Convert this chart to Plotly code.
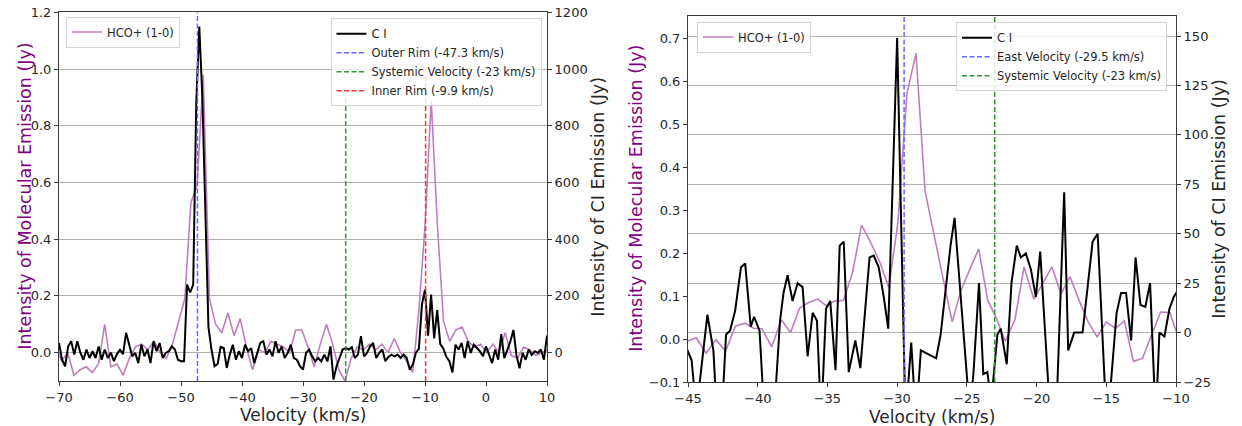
import plotly.graph_objects as go

# ---------------- data: left panel ----------------
hco_left_v = [round(-70.59 + 1.01 * i, 2) for i in range(81)]
hco_left = [0.03, -0.03, 0.00, -0.08, -0.06, -0.05, -0.07, -0.04, 0.10, -0.05,
            -0.04, -0.08, -0.02, 0.02, 0.03, 0.01, 0.04, 0.00, -0.02, 0.03,
            0.11, 0.19, 0.53, 0.59, 0.98, 0.19, 0.10, 0.07, 0.14, 0.06,
            0.12, 0.02, -0.06, 0.01, 0.00, 0.04, 0.03, 0.02, 0.00, 0.08,
            0.08, 0.02, -0.05, 0.03, 0.10, 0.03, -0.06, -0.10, -0.02, 0.02,
            0.01, 0.03, 0.01, 0.03, 0.00, 0.05, 0.00, -0.03, -0.07, 0.15,
            0.45, 0.89, 0.45, 0.11, 0.04, 0.08, 0.09, 0.04, 0.02, 0.03,
            0.00, 0.03, 0.00, 0.07, -0.01, -0.02, 0.02, 0.01, -0.01, 0.00, 0.01]

ci_left_v = [-70 + 0.5 * i for i in range(161)]
ci_left = [34, -25, -48, 22, 40, -7, 40, 0, -25, 11,
           -19, 5, -19, 22, -25, 11, -19, 0, -30, -5,
           10, -5, 70, 28, -13, -1, -37, 28, -13, 11,
           -37, 40, 5, 34, -19, -1, 5, 22, 11, -25,
           -30, -30, 240, 212, 240, 880, 1150, 900, 480, 90,
           11, -48, -40, 20, 16, -54, -7, 28, -25, 5,
           -19, 28, 5, 16, -37, -1, 34, 40, -7, 11,
           -13, 40, -1, 22, -19, -1, 28, -19, -25, -48,
           -60, -1, 11, -13, -31, -19, -31, -7, -31, 22,
           -95, -48, -19, 11, 16, 11, 19, -19, -7, 58,
           -13, -1, 22, 34, -19, -1, 11, -30, -15, -7,
           -13, -7, -19, -7, -19, -60, -42, -1, 14, 170,
           222, 60, 205, 50, 150, 30, 15, -15, -30, -70,
           28, 11, 34, -19, 40, -1, 28, 16, 5, -13,
           22, -7, -37, 11, -25, 65, -19, 10, 40, 80,
           -10, -55, -1, -25, 11, -8, 5, -1, 11, -25, 60]

# ---------------- data: right panel ----------------
hco_right_v = [-45.05, -44.40, -43.70, -43.00, -42.30, -41.60, -40.90, -40.30, -39.70, -39.00,
               -38.30, -37.65, -37.00, -36.35, -35.70, -35.10, -34.50, -33.85, -33.20, -32.55,
               -31.90, -31.25, -30.60, -29.95, -29.30, -28.65, -28.00, -27.35, -26.70, -26.05,
               -25.40, -24.75, -24.15, -23.50, -22.90, -22.25, -21.55, -20.90, -20.20, -19.55,
               -18.90, -18.25, -17.60, -16.95, -16.30, -15.65, -15.00, -14.35, -13.70, -13.05,
               -12.40, -11.75, -11.10, -10.45, -9.80]
hco_right = [-0.005, 0.003, -0.033, -0.002, -0.028, 0.030, 0.037, 0.025, 0.024, -0.018,
             0.045, 0.015, 0.072, 0.085, 0.093, 0.078, 0.088, 0.090, 0.155, 0.265,
             0.225, 0.180, 0.120, 0.270, 0.570, 0.665, 0.345, 0.240, 0.140, 0.040,
             0.115, 0.165, 0.210, 0.090, 0.050, -0.005, 0.045, 0.168, 0.093, 0.130,
             0.168, 0.105, 0.145, 0.090, 0.040, 0.005, 0.040, 0.025, 0.042, -0.052,
             -0.045, 0.010, 0.063, 0.062, 0.000]

ci_right_v = [-45.10, -44.74, -44.40, -43.61, -43.18, -42.90, -42.60, -42.27, -41.98, -41.62,
              -41.20, -40.90, -40.50, -40.26, -39.87, -39.50, -38.90, -38.40, -38.15, -37.86,
              -37.50, -37.14, -36.78, -36.42, -36.06, -35.75, -35.45, -35.10, -34.80, -34.42,
              -34.12, -33.83, -33.47, -33.00, -32.64, -32.30, -31.98, -31.68, -31.32, -30.96,
              -30.64, -30.00, -29.40, -28.99, -28.65, -28.30, -27.72, -27.20, -26.88, -26.17,
              -25.88, -24.80, -24.53, -24.13, -23.82, -23.53, -23.25, -22.81, -22.57, -22.14,
              -21.80, -21.42, -21.13, -20.77, -20.41, -20.05, -19.74, -19.00, -18.60, -18.02,
              -17.73, -17.30, -16.70, -15.98, -15.62, -14.95, -14.26, -13.94, -13.58, -13.22,
              -12.90, -12.55, -12.20, -11.86, -11.45, -11.19, -10.83, -10.47, -10.16, -9.90]
ci_right = [-8, -14, -40, 9, -9, -45, -45, -1, 1, 11,
            33, 35, 3, 8, 1, -45, -50, 6, 20, 29,
            16, 25, 23, -12, 10, 6, -45, 12, 16, -19,
            44, 46, -20, -4, -18, 10, 38, 39, 33, 18,
            2, 149, -45, -5, -45, -9, -11, -13, -1, 44,
            58, -40, -21, 25, -21, -20, -35, -1, 2, -16,
            25, 44, 38, 40, 32, 18, 41, -45, -45, 71,
            -9, 0, 0, 46, 50, -50, 10, 20, 20, -4,
            38, 14, 13, 25, -45, 0, -2, 12, 18, 21]

# reference velocities
outer_rim_v = -47.3
systemic_v = -23.0
inner_rim_v = -9.9
east_v = -29.5

# tick labels
left_x_ticks = [-70, -60, -50, -40, -30, -20, -10, 0, 10]
left_y_ticks = [0.0, 0.2, 0.4, 0.6, 0.8, 1.0, 1.2]
left_y2_ticks = [0, 200, 400, 600, 800, 1000, 1200]
right_x_ticks = [-45, -40, -35, -30, -25, -20, -15, -10]
right_y_ticks = [-0.1, 0.0, 0.1, 0.2, 0.3, 0.4, 0.5, 0.6, 0.7]
right_y2_ticks = [-25, 0, 25, 50, 75, 100, 125, 150]


def lab(v, fmt):
    return format(v, fmt).replace("-", "\u2212")


W, H = 1242, 426
FONT = "DejaVu Sans"
TXT = "#262626"
AX = "#3a3a3a"
PURPLE_LINE = "#bf7fbf"
BLUE = "#6666ff"
GREEN = "#2e992e"
RED = "#ff3333"
DASH = "5px,2.5px"

fig = go.Figure()

# left panel
fig.add_trace(go.Scatter(x=hco_left_v, y=hco_left, mode="lines", name="HCO+ (1-0)",
                         line=dict(color=PURPLE_LINE, width=1.6), xaxis="x", yaxis="y",
                         legend="legend"))
fig.add_trace(go.Scatter(x=ci_left_v, y=ci_left, mode="lines", name="C I",
                         line=dict(color="black", width=2), xaxis="x", yaxis="y2",
                         legend="legend2"))
fig.add_trace(go.Scatter(x=[outer_rim_v, outer_rim_v], y=[-100, 1200], mode="lines",
                         name="Outer Rim (-47.3 km/s)",
                         line=dict(color=BLUE, width=1.5, dash=DASH),
                         xaxis="x", yaxis="y2", legend="legend2"))
fig.add_trace(go.Scatter(x=[systemic_v, systemic_v], y=[-100, 900], mode="lines",
                         name="Systemic Velocity (-23 km/s)",
                         line=dict(color=GREEN, width=1.5, dash=DASH),
                         xaxis="x", yaxis="y2", legend="legend2"))
fig.add_trace(go.Scatter(x=[inner_rim_v, inner_rim_v], y=[-100, 980], mode="lines",
                         name="Inner Rim (-9.9 km/s)",
                         line=dict(color=RED, width=1.5, dash=DASH),
                         xaxis="x", yaxis="y2", legend="legend2"))

# right panel
fig.add_trace(go.Scatter(x=hco_right_v, y=hco_right, mode="lines", name="HCO+ (1-0)",
                         line=dict(color=PURPLE_LINE, width=1.6), xaxis="x2", yaxis="y3",
                         legend="legend3"))
fig.add_trace(go.Scatter(x=ci_right_v, y=ci_right, mode="lines", name="C I",
                         line=dict(color="black", width=2), xaxis="x2", yaxis="y4",
                         legend="legend4"))
fig.add_trace(go.Scatter(x=[east_v, east_v], y=[-25, 160.3], mode="lines",
                         name="East Velocity (-29.5 km/s)",
                         line=dict(color=BLUE, width=1.5, dash=DASH),
                         xaxis="x2", yaxis="y4", legend="legend4"))
fig.add_trace(go.Scatter(x=[systemic_v, systemic_v], y=[-25, 160.3], mode="lines",
                         name="Systemic Velocity (-23 km/s)",
                         line=dict(color=GREEN, width=1.5, dash=DASH),
                         xaxis="x2", yaxis="y4", legend="legend4"))

tickfont = dict(family=FONT, size=13, color=TXT)


def axis(**kw):
    d = dict(showline=True, linecolor=AX, linewidth=1, ticks="outside", ticklen=4,
             tickcolor=AX, tickfont=tickfont, zeroline=False, showgrid=False,
             automargin=False)
    d.update(kw)
    return d


xl = [59 / W, 547 / W]
yl = [45 / H, 413.7 / H]
xr = [688 / W, 1176 / W]
yr = [44 / H, 410.3 / H]

legfont = dict(family=FONT, size=11.5, color=TXT)


def legend(x, y, xanchor):
    return dict(x=x, y=y, xanchor=xanchor, yanchor="top", xref="paper", yref="paper",
                font=legfont, bgcolor="rgba(255,255,255,0.8)", bordercolor="#d4d4d4",
                borderwidth=1, itemwidth=30, tracegroupgap=0, traceorder="normal")


fig.update_layout(
    template="none",
    width=W, height=H, margin=dict(l=0, r=0, t=0, b=0, autoexpand=False),
    paper_bgcolor="white", plot_bgcolor="white",
    font=dict(family=FONT, color=TXT),
    xaxis=axis(domain=xl, anchor="y", range=[-70, 10], tickvals=left_x_ticks,
               ticktext=[lab(v, "d") for v in left_x_ticks], mirror=True),
    yaxis=axis(domain=yl, anchor="x", range=[-0.1, 1.2], tickvals=left_y_ticks,
               ticktext=[lab(v, ".1f") for v in left_y_ticks]),
    yaxis2=axis(domain=yl, anchor="x", overlaying="y", side="right", range=[-100, 1200],
                tickvals=left_y2_ticks, ticktext=[lab(v, "d") for v in left_y2_ticks],
                showgrid=True, gridcolor="#b0b0b0", gridwidth=1),
    xaxis2=axis(domain=xr, anchor="y3", range=[-45, -10], tickvals=right_x_ticks,
                ticktext=[lab(v, "d") for v in right_x_ticks], mirror=True),
    yaxis3=axis(domain=yr, anchor="x2", range=[-0.1, 0.7527], tickvals=right_y_ticks,
                ticktext=[lab(v, ".1f") for v in right_y_ticks]),
    yaxis4=axis(domain=yr, anchor="x2", overlaying="y3", side="right", range=[-25, 160.3],
                tickvals=right_y2_ticks, ticktext=[lab(v, "d") for v in right_y2_ticks],
                showgrid=True, gridcolor="#b0b0b0", gridwidth=1),
    legend=legend(66 / W, 1 - 16.5 / H, "left"),
    legend2=legend(541.5 / W, 1 - 18.3 / H, "right"),
    legend3=legend(697 / W, 1 - 21.5 / H, "left"),
    legend4=legend(1167 / W, 1 - 22.3 / H, "right"),
    showlegend=True,
)

TITLE = dict(family=FONT, size=17, color=TXT)
PURPLE_TITLE = dict(family=FONT, size=17.5, color="#800080")
TITLE_R = dict(family=FONT, size=17.5, color=TXT)
ann = [
    dict(text="Velocity (km/s)", x=(xl[0] + xl[1]) / 2, y=1 - 415 / H, font=TITLE),
    dict(text="Velocity (km/s)", x=(xr[0] + xr[1]) / 2, y=1 - 416.5 / H, font=TITLE),
    dict(text="Intensity of Molecular Emission (Jy)", x=25 / W, y=(yl[0] + yl[1]) / 2,
         font=PURPLE_TITLE, textangle=-90),
    dict(text="Intensity of CI Emission (Jy)", x=598 / W, y=(yl[0] + yl[1]) / 2,
         font=TITLE_R, textangle=-90),
    dict(text="Intensity of Molecular Emission (Jy)", x=636 / W, y=(yr[0] + yr[1]) / 2,
         font=PURPLE_TITLE, textangle=-90),
    dict(text="Intensity of CI Emission (Jy)", x=1219 / W, y=(yr[0] + yr[1]) / 2,
         font=TITLE_R, textangle=-90),
]
for a in ann:
    fig.add_annotation(xref="paper", yref="paper", showarrow=False, xanchor="center",
                       yanchor="middle", **a)

fig.write_html("out.html")
